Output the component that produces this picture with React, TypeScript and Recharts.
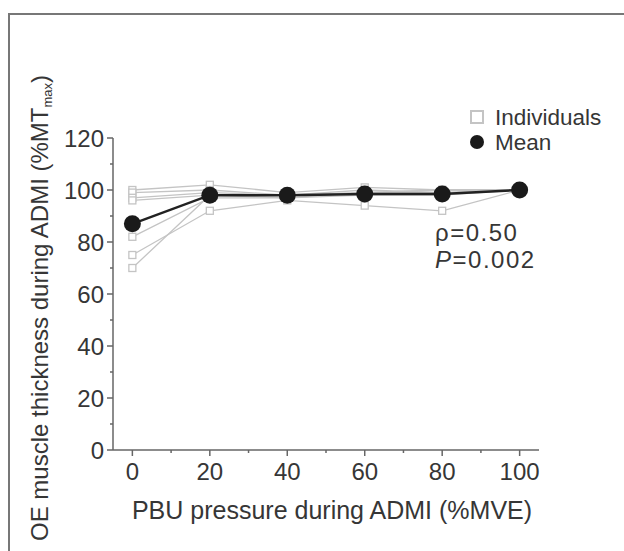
import { LineChart, Line, XAxis, YAxis, Legend } from 'recharts'

// PBU pressure (%MVE)
const pressures = [0, 20, 40, 60, 80, 100]

// OE muscle thickness (%MTmax)
const subject1 = [100, 102, 99, 101, 100, 100]
const subject2 = [99, 100, 98, 100, 99, 100]
const subject3 = [97, 99, 98, 99, 100, 100]
const subject4 = [96, 98, 97, 98, 98, 100]
const subject5 = [82, 97, 97, 99, 99, 100]
const subject6 = [75, 92, 96, 94, 92, 100]
const subject7 = [70, 98, 98, 99, 100, 100]
const meanValues = [87, 98, 98, 98.5, 98.5, 100]

const subjects = [subject1, subject2, subject3, subject4, subject5, subject6, subject7]

const xTicks = [0, 10, 20, 30, 40, 50, 60, 70, 80, 90, 100]
const yTicks = [0, 10, 20, 30, 40, 50, 60, 70, 80, 90, 100, 110, 120]

const data = pressures.map((p, i) => {
  const row: any = { x: p, mean: meanValues[i] }
  subjects.forEach((s, k) => { row[`s${k + 1}`] = s[i] })
  return row
})

const FONT = '"Liberation Sans", Arial, sans-serif'
const TEXT = '#363636'
const AXIS = '#666'
const IND = '#c4c4c4'

const XTick = ({ x, y, payload }: any) => {
  const major = payload.value % 20 === 0
  return (
    <g>
      <line x1={x} x2={x} y1={y} y2={y + (major ? 6 : 3)} stroke={AXIS} strokeWidth={1.5} />
      {major && (
        <text x={x} y={y + 30} textAnchor="middle" fill={TEXT} fontSize={24} fontFamily={FONT}>
          {payload.value}
        </text>
      )}
    </g>
  )
}

const YTick = ({ x, y, payload }: any) => {
  const major = payload.value % 20 === 0
  return (
    <g>
      <line x1={x - (major ? 6 : 3)} x2={x} y1={y} y2={y} stroke={AXIS} strokeWidth={1.5} />
      {major && (
        <text x={x - 9} y={y + 8.5} textAnchor="end" fill={TEXT} fontSize={24} fontFamily={FONT}>
          {payload.value}
        </text>
      )}
    </g>
  )
}

const SquareDot = ({ cx, cy }: any) => {
  if (cx == null || cy == null) return null
  return <rect x={cx - 3.5} y={cy - 3.5} width={7} height={7} fill="#fff" stroke={IND} strokeWidth={1.3} />
}

const MeanDot = ({ cx, cy }: any) => {
  if (cx == null || cy == null) return null
  return <circle cx={cx} cy={cy} r={8.5} fill="#1a1a1a" />
}

const LegendBox = ({ payload }: any) => {
  // one entry per name (the seven subject lines share "Individuals")
  const items = (payload || []).filter(
    (e: any, i: number, arr: any[]) => arr.findIndex((o: any) => o.value === e.value) === i
  )
  return (
    <svg width={160} height={56} style={{ overflow: 'visible' }}>
      {items.map((entry: any, i: number) => {
        const cy = 13 + i * 25
        return (
          <g key={entry.value}>
            {entry.dataKey === 'mean'
              ? <circle cx={7} cy={cy} r={7} fill="#1a1a1a" />
              : <rect x={1} y={cy - 6} width={12} height={12} fill="#fff" stroke={IND} strokeWidth={2} />}
            <text x={25} y={cy + 8} fill={TEXT} fontSize={22.5} fontFamily={FONT}>{entry.value}</text>
          </g>
        )
      })}
    </svg>
  )
}

export default function App() {
  return (
    <div style={{ position: 'absolute', left: 0, top: 0, width: 624, height: 551, background: '#fff', overflow: 'hidden' }}>
      <div style={{ position: 'absolute', left: 8, top: 13, width: 640, height: 560, borderTop: '2px solid #777', borderLeft: '2px solid #777' }} />
      <div style={{ position: 'absolute', left: 0, top: 0 }}>
        <LineChart width={624} height={551} data={data} margin={{ top: 138, right: 85, bottom: 61, left: 53 }}>
          <XAxis
            dataKey="x"
            type="number"
            domain={[-5, 105]}
            ticks={xTicks}
            interval={0}
            tickSize={0}
            tickMargin={0}
            tickLine={false}
            tick={<XTick />}
            axisLine={{ stroke: AXIS, strokeWidth: 1.5 }}
            height={40}
          />
          <YAxis
            type="number"
            domain={[0, 120]}
            ticks={yTicks}
            interval={0}
            tickSize={0}
            tickMargin={0}
            tickLine={false}
            tick={<YTick />}
            axisLine={{ stroke: AXIS, strokeWidth: 1.5 }}
            width={60}
          />
          <Legend
            layout="vertical"
            align="center"
            verticalAlign="middle"
            content={<LegendBox />}
            wrapperStyle={{ left: 470, top: 104, width: 160 }}
          />
          {subjects.map((_, k) => (
            <Line
              key={k}
              dataKey={`s${k + 1}`}
              name="Individuals"
              legendType={k === 0 ? 'square' : 'none'}
              stroke={IND}
              strokeWidth={1.3}
              dot={<SquareDot />}
              activeDot={false}
              isAnimationActive={false}
            />
          ))}
          <Line
            dataKey="mean"
            name="Mean"
            stroke="#222"
            strokeWidth={2.5}
            dot={<MeanDot />}
            activeDot={false}
            isAnimationActive={false}
          />
        </LineChart>
      </div>
      <svg width={624} height={551} style={{ position: 'absolute', left: 0, top: 0, pointerEvents: 'none' }}>
        <text x={332} y={519} textAnchor="middle" fill={TEXT} fontSize={25} fontFamily={FONT}>
          PBU pressure during ADMI (%MVE)
        </text>
        <text transform="translate(48,541) rotate(-90)" textAnchor="start" fill={TEXT} fontSize={24} fontFamily={FONT}>
          OE muscle thickness during ADMI (%MT<tspan fontSize={13} dy={4}>max</tspan><tspan dy={-4}>)</tspan>
        </text>
        <text x={435} y={241} fill={TEXT} fontSize={24} fontFamily={FONT} letterSpacing={1.5}>ρ=0.50</text>
        <text x={435} y={268} fill={TEXT} fontSize={24} fontFamily={FONT} letterSpacing={1.5}>
          <tspan fontStyle="italic">P</tspan>=0.002
        </text>
      </svg>
    </div>
  )
}
